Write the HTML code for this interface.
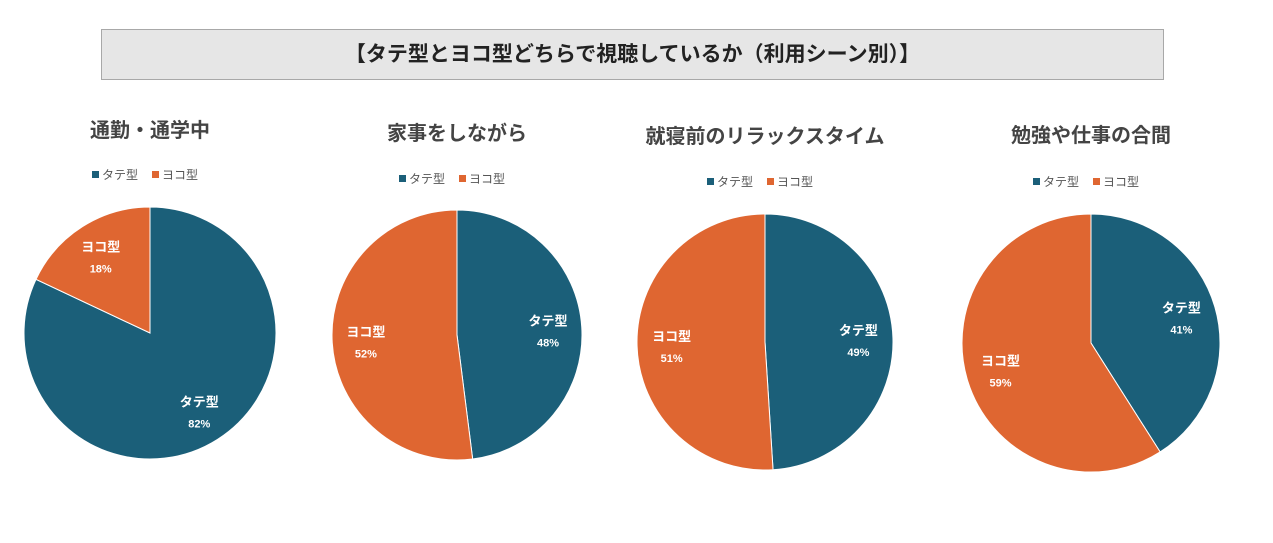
<!DOCTYPE html>
<html><head><meta charset="utf-8"><style>
body{margin:0;width:1273px;height:543px;background:#fff;overflow:hidden;font-family:"Liberation Sans","Noto Sans CJK JP",sans-serif;}
#hdr{position:absolute;left:101px;top:29px;width:1061px;height:49px;background:#e6e6e6;border:1px solid #a8a8a8;text-align:center;line-height:49px;font-size:21px;font-weight:bold;color:#222;}
</style></head><body>
<div id="hdr">【タテ型とヨコ型どちらで視聴しているか（利用シーン別）】</div>
<svg id="chart" width="1273" height="543" style="position:absolute;left:0;top:0"></svg>
<script>
const titles=["通勤・通学中","家事をしながら","就寝前のリラックスタイム","勉強や仕事の合間"];
const categories=["タテ型","ヨコ型"];
const tateValues=[82,48,49,41];
const yokoValues=[18,52,51,59];
const colors=["#1b5f79","#df6631"];
const cx=[150,457,765,1091],cy=[333,335,342,343],rr=[126,125,128,129],ty=[130,133,136,135],ly=[175,179,182,182];
const svg=document.getElementById('chart');const NS="http://www.w3.org/2000/svg";
function mk(t,a){const e=document.createElementNS(NS,t);for(const k in a)e.setAttribute(k,a[k]);return e;}
function pt(x,y,r,f){const a=f*2*Math.PI;return [x+r*Math.sin(a),y-r*Math.cos(a)];}
titles.forEach((t,i)=>{
  const g=mk('g',{});
  
  
  svg.appendChild(g);
  const tt=mk('text',{x:cx[i],y:ty[i]+7,'text-anchor':'middle','font-size':20,'font-weight':'bold',fill:'#444'});
  
  
  tt.textContent=t;g.appendChild(tt);
  // legend
  [0,1].forEach(k=>{
    const lx=cx[i]-58+k*60;
    const r=mk('rect',{x:lx,y:ly[i]-4,width:7,height:7,fill:colors[k]});
    
    
    g.appendChild(r);
    const lt=mk('text',{x:lx+10,y:ly[i]+4,'font-size':12,fill:'#555'});
    
    
    lt.textContent=categories[k];g.appendChild(lt);
  });
  const vals=[tateValues[i],yokoValues[i]];const tot=vals[0]+vals[1];
  let start=0;
  vals.forEach((v,k)=>{
    const f=v/tot,end=start+f;
    const [x1,y1]=pt(cx[i],cy[i],rr[i],start),[x2,y2]=pt(cx[i],cy[i],rr[i],end);
    const p=mk('path',{d:`M${cx[i]},${cy[i]} L${x1},${y1} A${rr[i]},${rr[i]} 0 ${f>0.5?1:0} 1 ${x2},${y2} Z`,fill:colors[k],stroke:'#fff','stroke-width':1});
    
    
    g.appendChild(p);
    start=end;
  });
  start=0;
  vals.forEach((v,k)=>{
    const f=v/tot;const [lx,lyy]=pt(cx[i],cy[i],rr[i]*0.73,start+f/2);start+=f;
    const a=mk('text',{x:lx,y:lyy-4,'text-anchor':'middle','font-size':13,'font-weight':'bold',fill:'#fff'});
    
    
    a.textContent=categories[k];g.appendChild(a);
    const b=mk('text',{x:lx,y:lyy+17,'text-anchor':'middle','font-size':11,'font-weight':'bold',fill:'#fff'});
    
    
    b.textContent=v+'%';g.appendChild(b);
  });
});
</script>
</body></html>
